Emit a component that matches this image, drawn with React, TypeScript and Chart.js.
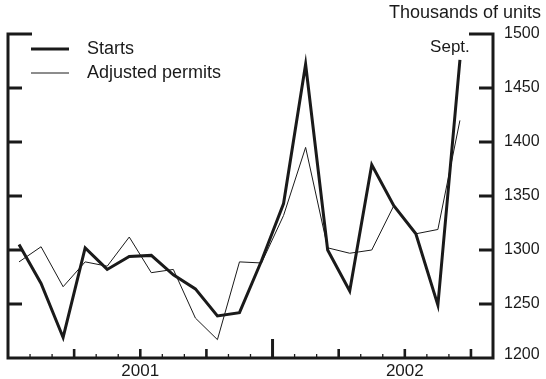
import React, { useEffect, useRef } from "react";
import { Chart, registerables } from "chart.js";

Chart.register(...registerables);

// Monthly data, Jan 2001 – Sept 2002 (thousands of units, annual rate)
const months: string[] = [
  "Jan 2001", "Feb 2001", "Mar 2001", "Apr 2001", "May 2001", "Jun 2001",
  "Jul 2001", "Aug 2001", "Sep 2001", "Oct 2001", "Nov 2001", "Dec 2001",
  "Jan 2002", "Feb 2002", "Mar 2002", "Apr 2002", "May 2002", "Jun 2002",
  "Jul 2002", "Aug 2002", "Sep 2002",
];
const starts: number[] = [
  1305, 1269, 1219, 1302, 1282, 1294, 1295, 1277, 1264, 1239, 1242, 1290,
  1343, 1472, 1300, 1262, 1379, 1341, 1315, 1249, 1476,
];
const permits: number[] = [
  1289, 1303, 1266, 1289, 1285, 1312, 1279, 1282, 1237, 1217, 1289, 1288,
  1332, 1395, 1302, 1297, 1300, 1341, 1315, 1319, 1420,
];
const yTicks: number[] = [1200, 1250, 1300, 1350, 1400, 1450, 1500];
const years: string[] = ["2001", "2002"];
const totalMonths = 22; // axis spans Jan 2001 through Oct 2002
const seriesNames: string[] = ["Starts", "Adjusted permits"];
const unitsLabel = "Thousands of units";
const lastLabel = "Sept.";

const FONT = '"Liberation Sans", Arial, Helvetica, sans-serif';
const INK = "#1a1a1a";

const framePlugin = {
  id: "frame",
  afterDraw(chart: any) {
    const ctx = chart.ctx as CanvasRenderingContext2D;
    const xs = chart.scales.x;
    const ys = chart.scales.y;
    const area = chart.chartArea;
    const L = area.left, R = area.right, T = area.top, B = area.bottom;
    ctx.save();
    ctx.strokeStyle = INK;
    ctx.fillStyle = INK;
    ctx.lineCap = "butt";

    // axes frame (left, bottom, right) with top bracket ticks
    ctx.lineWidth = 3;
    ctx.lineJoin = "miter";
    ctx.beginPath();
    ctx.moveTo(L + 24, T);
    ctx.lineTo(L, T);
    ctx.lineTo(L, B);
    ctx.lineTo(R, B);
    ctx.lineTo(R, T);
    ctx.lineTo(R - 24, T);
    ctx.stroke();

    // y ticks (inward)
    yTicks.forEach((v) => {
      const y = ys.getPixelForValue(v);
      if (v !== yTicks[0] && v !== yTicks[yTicks.length - 1]) {
        ctx.lineWidth = 3;
        ctx.beginPath();
        ctx.moveTo(L, y);
        ctx.lineTo(L + 14, y);
        ctx.moveTo(R, y);
        ctx.lineTo(R - 14, y);
        ctx.stroke();
      }
    });

    // x ticks at month boundaries
    for (let k = 1; k < totalMonths; k++) {
      const x = xs.getPixelForValue(k);
      let len = 4, w = 1.3;
      if (k % 12 === 0) { len = 19; w = 3; }
      else if (k % 3 === 0) { len = 9; w = 2.6; }
      ctx.lineWidth = w;
      ctx.beginPath();
      ctx.moveTo(x, B);
      ctx.lineTo(x, B - len);
      ctx.stroke();
    }

    // y tick labels on right
    ctx.font = `16px ${FONT}`;
    ctx.textAlign = "left";
    ctx.textBaseline = "middle";
    yTicks.forEach((v) => {
      const y = ys.getPixelForValue(v);
      ctx.fillText(String(v), R + 11, y - (v === yTicks[0] ? 3 : 0));
    });

    // year labels
    ctx.font = `17px ${FONT}`;
    ctx.textAlign = "center";
    ctx.textBaseline = "middle";
    years.forEach((yr, i) => {
      const x = xs.getPixelForValue(i * 12 + 6);
      ctx.fillText(yr, x, B + 13);
    });

    // units title
    ctx.font = `18px ${FONT}`;
    ctx.textAlign = "right";
    ctx.fillText(unitsLabel, 541, 13);

    // Sept. label
    ctx.font = `17px ${FONT}`;
    ctx.textAlign = "center";
    const lx = xs.getPixelForValue(starts.length - 0.5);
    ctx.fillText(lastLabel, lx - 10, 47);

    // legend
    ctx.font = `18px ${FONT}`;
    const legendY = [49, 73];
    const legendW = [3, 1];
    ctx.textAlign = "left";
    seriesNames.forEach((name, i) => {
      ctx.lineWidth = legendW[i];
      ctx.beginPath();
      ctx.moveTo(L + 23, legendY[i]);
      ctx.lineTo(L + 61, legendY[i]);
      ctx.stroke();
      ctx.fillText(name, L + 79, legendY[i]);
    });
    ctx.restore();
  },
};

export default function App() {
  const ref = useRef<HTMLCanvasElement | null>(null);
  useEffect(() => {
    if (!ref.current) return;
    const chart = new Chart(ref.current, {
      type: "line",
      data: {
        datasets: [
          {
            label: seriesNames[0],
            data: starts.map((v, i) => ({ x: i + 0.5, y: v })),
            borderColor: INK,
            borderWidth: 3,
            pointRadius: 0,
            tension: 0,
            borderJoinStyle: "miter",
          },
          {
            label: seriesNames[1],
            data: permits.map((v, i) => ({ x: i + 0.5, y: v })),
            borderColor: INK,
            borderWidth: 1,
            pointRadius: 0,
            tension: 0,
          },
        ],
      },
      options: {
        responsive: false,
        animation: false,
        layout: { padding: { left: 8, right: 53, top: 34, bottom: 21 } },
        plugins: { legend: { display: false }, tooltip: { enabled: false } },
        scales: {
          x: { type: "linear", display: false, min: 0, max: totalMonths },
          y: { type: "linear", display: false, min: 1200, max: 1500 },
        },
      },
      plugins: [framePlugin],
    });
    return () => chart.destroy();
  }, []);
  return (
    <div style={{ position: "absolute", left: 0, top: 0, width: 546, height: 379, background: "#fff" }}>
      <canvas ref={ref} width={546} height={379} />
    </div>
  );
}
